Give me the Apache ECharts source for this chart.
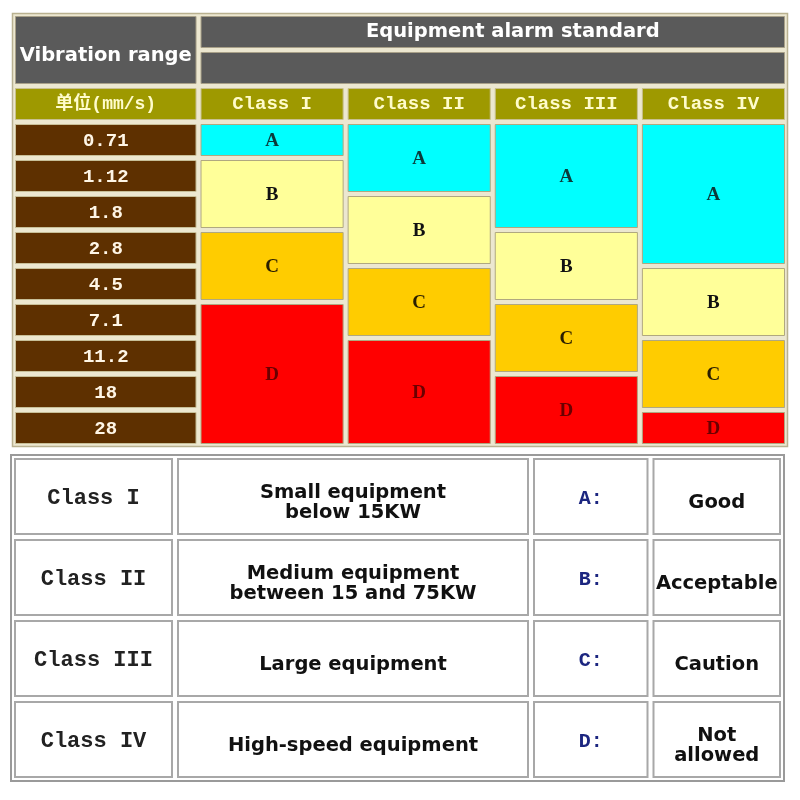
<!DOCTYPE html>
<html>
<head>
<meta charset="utf-8">
<script src="https://cdn.jsdelivr.net/npm/echarts@6/dist/echarts.min.js"></script>
<style>
  html, body { margin: 0; padding: 0; background: #fff; }
  #chart { width: 800px; height: 800px; }
</style>
</head>
<body>
<div id="chart"></div>
<script>
// ---- data ----
const rangeTitle = 'Vibration range'
const standardTitle = 'Equipment alarm standard'
const unitLabel = '单位(mm/s)'
const ranges = ['0.71', '1.12', '1.8', '2.8', '4.5', '7.1', '11.2', '18', '28']
const classes = ['Class I', 'Class II', 'Class III', 'Class IV']
const grades = ['A', 'B', 'C', 'D']
// how many range rows each grade covers, per class
const gradeRows = [
  [1, 2, 2, 4],
  [2, 2, 2, 3],
  [3, 2, 2, 2],
  [4, 2, 2, 1]
]
const classDesc = ['Small equipment\nbelow 15KW', 'Medium equipment\nbetween 15 and 75KW', 'Large equipment', 'High-speed equipment']
const gradeDesc = ['Good', 'Acceptable', 'Caution', 'Not\nallowed']

// ---- layout / style ----
const LABEL_W = 1.261                        // label column, in class-column units
const TOP_W = LABEL_W + classes.length
const TOP_ROWS = 3 + ranges.length
const BOTTOM_EDGES = [0, 1.63, 5.19, 6.385, 7.71]

const SANS = '"DejaVu Sans", Verdana, sans-serif'
const MONO = '"Liberation Mono", "Noto Sans CJK SC", monospace'
const gradeFill = ['#00ffff', '#ffff99', '#ffcc00', '#ff0000']
const gradeInk = ['#0b3a3a', '#111111', '#2a1e00', '#6a0000']

function cell(x0, x1, y0, y1, text, fill, color, font, extra) {
  return Object.assign({ x0, x1, y0, y1, text, fill, color, font, stroke: null, lw: 0, inset: 2.5, lh: 20, dx: 0, dy: 0 }, extra || {})
}

const topCells = []
topCells.push(cell(0, TOP_W, 0, TOP_ROWS, '', '#ece7d0', '#000', '', { stroke: '#b9b190', lw: 1.5, inset: -0.5 }))
topCells.push(cell(0, LABEL_W, 0, 2, rangeTitle, '#5a5a5a', '#ffffff', 'bold 19.5px ' + SANS, { stroke: '#a8a088', lw: 1, dy: 6 }))
topCells.push(cell(LABEL_W, TOP_W, 0, 1, standardTitle, '#5a5a5a', '#ffffff', 'bold 19.5px ' + SANS, { stroke: '#a8a088', lw: 1, dx: 20 }))
topCells.push(cell(LABEL_W, TOP_W, 1, 2, '', '#5a5a5a', '#ffffff', '', { stroke: '#a8a088', lw: 1 }))
topCells.push(cell(0, LABEL_W, 2, 3, unitLabel, '#9e9900', '#fffccc', 'bold 18px ' + MONO, { stroke: '#c8c090', lw: 1 }))
classes.forEach((c, i) => {
  topCells.push(cell(LABEL_W + i, LABEL_W + i + 1, 2, 3, c, '#9e9900', '#fffccc', 'bold 19px ' + MONO, { stroke: '#c8c090', lw: 1 }))
})
ranges.forEach((r, i) => {
  topCells.push(cell(0, LABEL_W, 3 + i, 4 + i, r, '#5e3000', '#fff6e6', 'bold 19px ' + MONO, { stroke: '#c8bf98', lw: 1, dy: 1 }))
})
gradeRows.forEach((spans, ci) => {
  let y = 3
  spans.forEach((n, gi) => {
    topCells.push(cell(LABEL_W + ci, LABEL_W + ci + 1, y, y + n, grades[gi], gradeFill[gi], gradeInk[gi],
      'bold 19px "Liberation Serif", serif', { stroke: '#b0a880', lw: 1, dy: 1 }))
    y += n
  })
})

const BW = BOTTOM_EDGES[BOTTOM_EDGES.length - 1]
const bottomCells = []
bottomCells.push(cell(0, BW, 0, classes.length, '', '#ffffff', '#000', '', { stroke: '#9a9a9a', lw: 2, inset: -1 }))
classes.forEach((c, i) => {
  const cols = [
    [c, '#222222', 'bold 22px ' + MONO],
    [classDesc[i], '#111111', 'bold 19.5px ' + SANS],
    [grades[i] + ':', '#1c2680', 'bold 20px ' + MONO],
    [gradeDesc[i], '#111111', 'bold 19.5px ' + SANS]
  ]
  cols.forEach((col, j) => {
    bottomCells.push(cell(BOTTOM_EDGES[j], BOTTOM_EDGES[j + 1], i, i + 1, col[0], '#ffffff', col[1], col[2],
      { stroke: '#a8a8a8', lw: 2, inset: 3, lh: 20, dy: j === 0 || j === 2 ? 2 : 6 }))
  })
})

function renderCells(cells) {
  return function (params, api) {
    const c = cells[params.dataIndex]
    const p0 = api.coord([api.value(0), api.value(1)])
    const p1 = api.coord([api.value(2), api.value(3)])
    const x = Math.min(p0[0], p1[0]) + c.inset
    const y = Math.min(p0[1], p1[1]) + c.inset
    const w = Math.abs(p1[0] - p0[0]) - 2 * c.inset
    const h = Math.abs(p1[1] - p0[1]) - 2 * c.inset
    return {
      type: 'rect',
      shape: { x, y, width: w, height: h },
      style: { fill: c.fill, stroke: c.stroke, lineWidth: c.lw },
      textContent: {
        style: { text: c.text, fill: c.color, font: c.font, align: 'center', verticalAlign: 'middle', lineHeight: c.lh }
      },
      textConfig: { position: 'inside', offset: [c.dx, c.dy] }
    }
  }
}

const hidden = { show: false }
function axis(max, gridIndex, inverse) {
  return { type: 'value', min: 0, max, gridIndex, inverse, axisLine: hidden, axisTick: hidden, axisLabel: hidden, splitLine: hidden }
}

const chart = echarts.init(document.getElementById('chart'))
chart.setOption({
  animation: false,
  backgroundColor: '#ffffff',
  grid: [
    { left: 13, top: 14, width: 774, height: 432 },
    { left: 12, top: 456, width: 771, height: 324 }
  ],
  xAxis: [axis(TOP_W, 0, false), axis(BW, 1, false)],
  yAxis: [axis(TOP_ROWS, 0, true), axis(classes.length, 1, true)],
  series: [
    {
      type: 'custom',
      xAxisIndex: 0,
      yAxisIndex: 0,
      clip: false,
      encode: { x: [0, 2], y: [1, 3] },
      renderItem: renderCells(topCells),
      data: topCells.map(c => [c.x0, c.y0, c.x1, c.y1])
    },
    {
      type: 'custom',
      xAxisIndex: 1,
      yAxisIndex: 1,
      clip: false,
      encode: { x: [0, 2], y: [1, 3] },
      renderItem: renderCells(bottomCells),
      data: bottomCells.map(c => [c.x0, c.y0, c.x1, c.y1])
    }
  ]
})
</script>
</body>
</html>
